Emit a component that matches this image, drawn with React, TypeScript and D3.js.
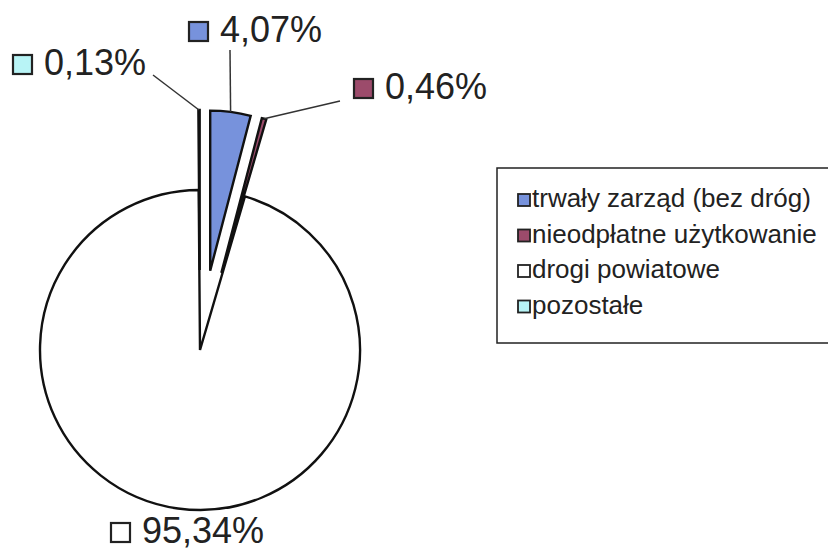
import React from 'react';
import * as d3 from 'd3';

// pie shares (%) of the land categories
const categories = ['trwały zarząd (bez dróg)', 'nieodpłatne użytkowanie', 'drogi powiatowe', 'pozostałe'];
const shares = [4.07, 0.46, 95.34, 0.13];
const colors = ['#7792dc', '#9c4b6b', '#ffffff', '#b8f4f6'];
const exploded = [true, true, false, true];

// where each percentage label sits (square key top-left corner) and the leader line end
const labelPos = [
  { x: 189, y: 22, lx: 230, ly: 50 },
  { x: 354, y: 79, lx: 340, ly: 101 },
  { x: 111, y: 523, lx: null, ly: null },
  { x: 13, y: 55, lx: 153, ly: 75 },
];

const W = 828;
const H = 551;
const cx = 200;
const cy = 350;
const R = 160;
const explode = 80;
const font = '"Liberation Sans", Arial, sans-serif';

const fmt = (v: number) => v.toFixed(2).replace('.', ',') + '%';

export default function App() {
  const pie = d3.pie<number>().sort(null).startAngle(0).endAngle(2 * Math.PI);
  const arcs = pie(shares);
  const arc = d3.arc<d3.PieArcDatum<number>>().innerRadius(0).outerRadius(R);

  const slices = arcs.map((a, i) => {
    const mid = (a.startAngle + a.endAngle) / 2;
    const off = exploded[i] ? explode : 0;
    const dx = Math.sin(mid) * off;
    const dy = -Math.cos(mid) * off;
    // point on the outer arc, used as the leader start
    const ox = cx + dx + Math.sin(mid) * R;
    const oy = cy + dy - Math.cos(mid) * R;
    return { a, i, dx, dy, ox, oy };
  });

  const legendX = 497;
  const legendY = 168;
  const rowH = 35.5;

  return (
    <svg width={W} height={H} style={{ position: 'absolute', left: 0, top: 0, background: '#fff' }}>
      {/* big slice first so exploded ones sit on top */}
      {[2, 0, 1, 3].map((i) => {
        const s = slices[i];
        return (
          <path
            key={i}
            d={arc(s.a) || ''}
            transform={`translate(${cx + s.dx},${cy + s.dy})`}
            fill={colors[i]}
            stroke="#111"
            strokeWidth={2.4}
            strokeLinejoin="miter"
          />
        );
      })}

      {/* leader lines */}
      {slices.map((s) => {
        const p = labelPos[s.i];
        if (p.lx == null || p.ly == null) return null;
        return (
          <line
            key={'l' + s.i}
            x1={s.ox}
            y1={s.oy}
            x2={p.lx}
            y2={p.ly}
            stroke="#333"
            strokeWidth={1.5}
          />
        );
      })}

      {/* percentage labels */}
      {slices.map((s) => {
        const p = labelPos[s.i];
        return (
          <g key={'t' + s.i}>
            <rect x={p.x} y={p.y} width={19} height={19} fill={colors[s.i]} stroke="#222" strokeWidth={2.2} />
            <text x={p.x + 31} y={p.y + 20} fontFamily={font} fontSize={36} fill="#222">
              {fmt(shares[s.i])}
            </text>
          </g>
        );
      })}

      {/* legend */}
      <rect x={legendX} y={legendY} width={360} height={175} fill="#fff" stroke="#222" strokeWidth={1.5} />
      {categories.map((c, i) => (
        <g key={'lg' + i}>
          <rect
            x={legendX + 21}
            y={legendY + 26 + i * rowH}
            width={12}
            height={12}
            fill={colors[i]}
            stroke="#222"
            strokeWidth={1.8}
          />
          <text x={legendX + 35} y={legendY + 39 + i * rowH} fontFamily={font} fontSize={26} fill="#222">
            {c}
          </text>
        </g>
      ))}
    </svg>
  );
}
